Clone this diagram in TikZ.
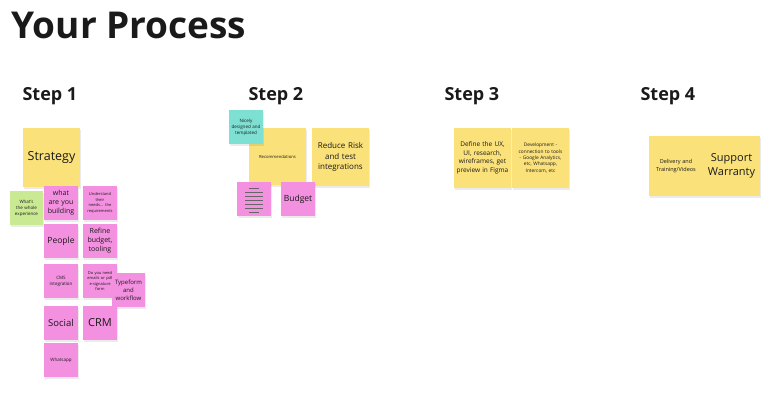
\documentclass[tikz,border=0pt]{standalone}
\usepackage{fontspec}
\setmainfont{Open Sans}
\definecolor{ylw}{HTML}{FBE17A}
\definecolor{pnk}{HTML}{F490E0}
\definecolor{grn}{HTML}{C9EA92}
\definecolor{tea}{HTML}{7EE0D2}
\definecolor{txt}{HTML}{1A1A1A}
\begin{document}
\hyphenpenalty=10000 \exhyphenpenalty=10000
\begin{tikzpicture}[x=1pt,y=-1pt,
  note/.style={draw=none,inner sep=0.5pt,align=center,text=txt},
  steplbl/.style={anchor=west,font=\bfseries\fontsize{18}{22}\selectfont,text=txt}]
\useasboundingbox (0,0) rectangle (782,402);
\newcommand\sticky[9]{% name,x1,y1,x2,y2,color,size,skip,text
  \fill[black,opacity=0.08] (#2+1,#3+2) rectangle (#4+1,#5+2);
  \fill[#6] (#2,#3) rectangle (#4,#5);
  \node[note,text width=#4-#2-3,font=\fontsize{#7}{#8}\selectfont] (#1) at ({(#2+#4)/2},{(#3+#5)/2}) {#9};}
\node[anchor=west,font=\bfseries\fontsize{37}{42}\selectfont,text=txt] (title) at (8,25) {Your Process};
\node[steplbl] (s1) at (19,96) {Step 1};
\node[steplbl] (s2) at (245,96) {Step 2};
\node[steplbl] (s3) at (441,96) {Step 3};
\node[steplbl] (s4) at (637,96) {Step 4};
% step 1
\sticky{strat}{23}{128}{80}{187}{ylw}{12.5}{15}{Strategy}
\sticky{whole}{10}{191}{43}{225}{grn}{4.5}{6}{What's the whole experience}
\sticky{build}{44}{186}{78}{220}{pnk}{7}{9}{what are you building}
\sticky{under}{83}{186}{117}{220}{pnk}{4}{5.5}{Understand their needs... the requirements}
\sticky{people}{44}{224}{78}{258}{pnk}{8.5}{11}{People}
\sticky{refine}{83}{224}{117}{258}{pnk}{7}{9}{Refine budget, tooling}
\sticky{cms}{44}{264}{78}{298}{pnk}{4.5}{6}{CMS integration}
\sticky{need}{83}{264}{117}{298}{pnk}{4}{5.5}{Do you need emails or pdf e-signature form}
\sticky{type}{112}{273}{145}{307}{pnk}{6}{8}{Typeform and workflow}
\sticky{social}{44}{306}{78}{340}{pnk}{9.5}{12}{Social}
\sticky{crm}{83}{306}{117}{340}{pnk}{11}{14}{CRM}
\sticky{whats}{44}{343}{78}{377}{pnk}{4.5}{6}{Whatsapp}
% step 2
\sticky{recom}{249}{128}{306}{185}{ylw}{4.2}{5.5}{Recommendations}
\sticky{teal}{229}{110}{263}{144}{tea}{4.5}{6}{Nicely designed and templated}
\sticky{reduce}{312}{128}{369}{186}{ylw}{8}{10.5}{Reduce Risk and test integrations}
\sticky{doc}{237}{182}{271}{216}{pnk}{5}{6}{}
\foreach \y/\w in {188/5,192/9,196/9,200/9,204/9,208/9,212/5}
  \draw[line width=0.8pt,black!60] (254-\w,\y) -- (254+\w,\y);
\sticky{budget}{281}{182}{315}{216}{pnk}{8.5}{11}{Budget}
% step 3
\sticky{define}{454}{128}{511}{188}{ylw}{6.5}{8.5}{Define the UX, UI, research, wireframes, get preview in Figma}
\sticky{dev}{512}{128}{569}{188}{ylw}{4.8}{6.3}{Development - connection to tools - Google Analytics, etc, Whatsapp, Intercom, etc}
% step 4
\sticky{deliv}{649}{136}{703}{196}{ylw}{5.5}{7.2}{Delivery and Training/Videos}
\sticky{supp}{703}{136}{760}{196}{ylw}{11}{14}{Support Warranty}
\end{tikzpicture}
\end{document}
